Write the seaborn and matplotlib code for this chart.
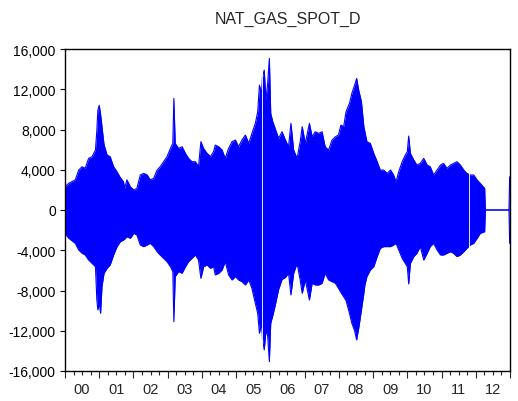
import numpy as np
import pandas as pd
import matplotlib
matplotlib.use("Agg")
import matplotlib.pyplot as plt
from matplotlib.ticker import FuncFormatter, FixedLocator
import seaborn as sns

# Daily changes in the natural gas spot series: upper and lower swing envelope
# (local peaks / troughs of the daily differences), by decimal year.
year = [
    2000.00, 2000.11, 2000.30, 2000.40, 2000.50, 2000.59, 2000.69, 2000.79, 2000.89, 2000.93,
    2000.96, 2001.00, 2001.04, 2001.08, 2001.14, 2001.23, 2001.32, 2001.42, 2001.52, 2001.62,
    2001.71, 2001.74, 2001.81, 2001.91, 2002.01, 2002.10, 2002.20, 2002.30, 2002.40, 2002.49,
    2002.59, 2002.69, 2002.78, 2002.88, 2002.98, 2003.08, 2003.15, 2003.18, 2003.22, 2003.32,
    2003.42, 2003.52, 2003.61, 2003.71, 2003.81, 2003.90, 2003.97, 2004.05, 2004.15, 2004.25,
    2004.34,
    2004.39, 2004.49, 2004.59, 2004.68, 2004.78, 2004.88, 2004.98, 2005.07, 2005.17, 2005.27,
    2005.37, 2005.46, 2005.56, 2005.63, 2005.68, 2005.74, 2005.77, 2005.82, 2005.87, 2005.92,
    2005.97, 2006.01, 2006.07, 2006.14, 2006.24, 2006.34, 2006.44, 2006.53, 2006.60, 2006.68,
    2006.78, 2006.87, 2006.93, 2007.02, 2007.14, 2007.22, 2007.31, 2007.41, 2007.51, 2007.60,
    2007.70, 2007.80, 2007.90, 2007.99, 2008.06, 2008.14, 2008.21, 2008.31, 2008.38, 2008.46,
    2008.52, 2008.58, 2008.66, 2008.73,
    2008.76, 2008.82, 2008.92, 2009.02, 2009.12, 2009.21, 2009.31, 2009.41, 2009.51, 2009.60,
    2009.67, 2009.75, 2009.85, 2009.94, 2010.00, 2010.04, 2010.09, 2010.19, 2010.28, 2010.38,
    2010.48, 2010.58, 2010.67, 2010.77, 2010.87, 2010.97, 2011.06, 2011.16, 2011.26, 2011.35,
    2011.45, 2011.55, 2011.65, 2011.74, 2011.84, 2011.94, 2012.04, 2012.13, 2012.26, 2012.28,
    2012.97, 2012.99,
]
upper = [
    2300, 2650, 3000, 3970, 4300, 4140, 5130, 5300, 5960, 7900,
    9930, 10400, 9500, 8300, 6500, 5460, 5300, 4300, 3800, 3200,
    2800, 2150, 3000, 2300, 1990, 2150, 3480, 3640, 3480, 3000,
    3140, 3970, 4300, 4800, 5300, 6120, 6620, 11090, 6620, 6120,
    6290, 5630, 5130, 4800, 4800, 4300, 6790, 6120, 5630, 5300,
    5800,
    6450, 6290, 5960, 5130, 6120, 6790, 6950, 6290, 6950, 7450,
    6620, 7610, 8610, 9760, 12410, 11590, 13240, 13900, 10920, 12580,
    15060, 9600, 8770, 8110, 7120, 7780, 6950, 6290, 8610, 5960,
    5130, 6790, 8280, 6620, 8610, 7280, 7780, 7610, 7780, 6290,
    5960, 6950, 7280, 7450, 8440, 8280, 9760, 10590, 11590, 12410,
    13070, 11920, 10760, 8300,
    7780, 6790, 6620, 5630, 4800, 3970, 3970, 3640, 3970, 3480,
    2810, 3810, 4800, 5460, 5790, 7350, 5630, 4970, 4470, 4630,
    5130, 4470, 4300, 3480, 3970, 4470, 4630, 4140, 4470, 4630,
    4800, 4470, 3970, 3640, 3480, 3480, 2980, 2650, 2150, 0,
    0, 3300,
]
lower = [
    -2320, -2810, -3310, -3970, -4300, -4470, -4970, -5300, -5630, -8940,
    -9930, -9270, -10260, -7610, -6290, -5790, -5460, -4470, -3640, -3140,
    -2980, -2900, -2650, -2810, -2320, -2480, -3480, -3640, -3480, -3310,
    -3640, -4140, -4470, -4800, -5130, -5630, -6120, -11090, -6620, -6120,
    -6290, -5630, -5130, -4800, -4470, -4970, -6790, -5630, -5460, -5790,
    -5630,
    -6450, -6290, -5960, -5130, -6450, -6950, -6620, -6950, -7120, -7450,
    -6950, -7780, -9270, -10260, -12250, -11250, -12800, -13900, -12000, -12500,
    -15060, -11250, -10500, -9500, -7900, -6900, -6700, -6290, -8440, -6290,
    -5300, -6950, -8280, -6950, -8940, -7280, -7450, -7450, -7280, -6290,
    -6950, -7120, -7280, -7780, -8200, -8610, -9000, -10260, -11250, -12000,
    -12910, -11750, -9930, -8280,
    -7450, -6620, -5960, -5630, -4630, -3810, -3640, -3640, -3640, -3480,
    -3310, -3970, -4800, -5300, -5630, -7350, -5300, -4630, -4300, -3640,
    -4970, -4300, -3640, -3310, -3970, -4470, -4470, -4300, -4140, -4300,
    -4630, -4470, -4140, -3810, -3480, -3310, -2810, -2320, -2150, 0,
    0, -3310,
]
# days with no observation (blank columns in the band)
missing_days = [2005.765, 2011.80]

y_ticks = [-16000, -12000, -8000, -4000, 0, 4000, 8000, 12000, 16000]
year_labels = ["00", "01", "02", "03", "04", "05", "06", "07", "08", "09", "10", "11", "12"]

sns.set_style("white")
plt.rcParams["font.family"] = ["Liberation Sans", "DejaVu Sans"]

df = pd.DataFrame({"year": year, "upper": upper, "lower": lower})

fig = plt.figure(figsize=(5.18, 4.02), dpi=100)
ax = fig.add_axes([65 / 518, 1 - 372 / 402, 445 / 518, 322 / 402])

blue = "#0000FF"
ax.fill_between(df["year"], df["lower"], df["upper"], color=blue, lw=0)
sns.lineplot(data=df, x="year", y="upper", color=blue, lw=0.8, ax=ax)
sns.lineplot(data=df, x="year", y="lower", color=blue, lw=0.8, ax=ax)
for d in missing_days:
    ax.axvline(d, color="white", lw=0.7, alpha=0.9)

ax.set_xlim(2000, 2013)
ax.set_ylim(-16000, 16000)
ax.set_xlabel("")
ax.set_ylabel("")

ax.set_yticks(y_ticks)
ax.yaxis.set_major_formatter(FuncFormatter(lambda v, p: f"{int(v):,}"))
ax.tick_params(axis="y", which="major", direction="out", length=3.6, width=0.8,
               pad=3, labelsize=10, left=True, colors="black")

ax.xaxis.set_major_locator(FixedLocator(np.arange(2000, 2014)))
ax.xaxis.set_minor_locator(FixedLocator(np.arange(2000, 2013.01, 0.25)))
ax.tick_params(axis="x", which="major", direction="out", length=5, width=0.8,
               bottom=True, labelbottom=False)
ax.tick_params(axis="x", which="minor", direction="out", length=2.7, width=0.8,
               bottom=True)

sec = ax.secondary_xaxis("bottom")
sec.set_xticks(np.arange(2000.5, 2013, 1.0), labels=year_labels)
sec.tick_params(length=0, pad=8, labelsize=10.5)
sec.spines["bottom"].set_visible(False)

for s in ax.spines.values():
    s.set_visible(True)
    s.set_color("black")
    s.set_linewidth(1.0)

ax.set_title("NAT_GAS_SPOT_D", fontsize=11.5, pad=19)

fig.savefig("out.png", dpi=100, facecolor="white")
